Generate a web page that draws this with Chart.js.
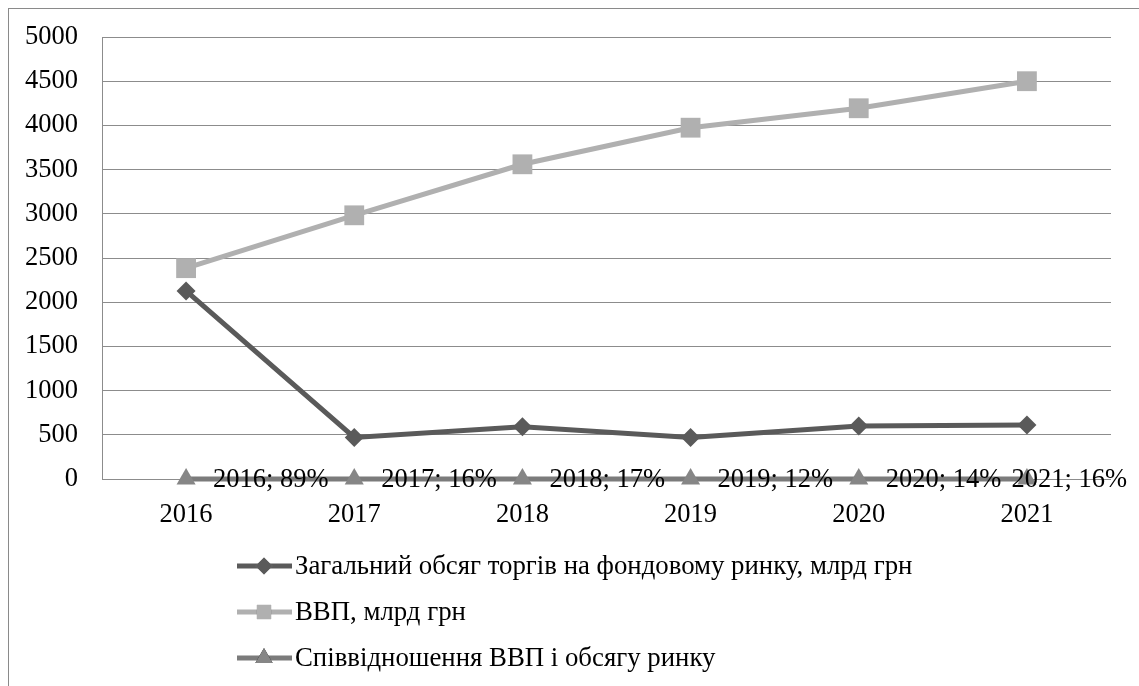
<!DOCTYPE html>
<html>
<head>
<meta charset="utf-8">
<script src="https://cdn.jsdelivr.net/npm/chart.js@4/dist/chart.umd.min.js"></script>
<style>
  html, body { margin: 0; padding: 0; background: #fff; }
  #wrap { width: 1139px; height: 686px; position: relative; }
</style>
</head>
<body>
<div id="wrap"><canvas id="myChartLine" width="1139" height="686"></canvas></div>
<script>
// роки та ряди даних
const years = ['2016', '2017', '2018', '2019', '2020', '2021'];
const tradeVolume = [2127, 470, 590, 470, 600, 610];     // млрд грн
const gdp = [2385, 2983, 3560, 3974, 4194, 4500];          // млрд грн
const ratio = [0.89, 0.16, 0.17, 0.12, 0.14, 0.16];        // частка
const yTicks = [0, 500, 1000, 1500, 2000, 2500, 3000, 3500, 4000, 4500, 5000];

const seriesNames = [
    'Загальний обсяг торгів на фондовому ринку, млрд грн',
    'ВВП, млрд грн',
    'Співвідношення ВВП і обсягу ринку'
];

const FONT = "'Liberation Serif', 'Times New Roman', serif";
const FSIZE = 26.5;

// підписи значень для ряду співвідношення
const ratioLabels = {
    id: 'ratioLabels',
    afterDatasetsDraw(chart) {
        let ctx = chart.ctx;
        let meta = chart.getDatasetMeta(2);
        ctx.save();
        ctx.font = FSIZE + 'px ' + FONT;
        ctx.fillStyle = '#000';
        ctx.textBaseline = 'middle';
        meta.data.forEach(function (pt, i) {
            let txt = years[i] + '; ' + Math.round(ratio[i] * 100) + '%';
            let w = ctx.measureText(txt).width;
            let x = pt.x + 27;
            if (x + w > chart.width - 12) {
                x = chart.width - 12 - w;
            }
            ctx.fillText(txt, x, pt.y + 1);
        });
        ctx.restore();
    }
};

// легенда списком під графіком + рамка навколо
const legendMarks = [
    { style: 'rectRot', radius: 8.5 },
    { style: 'rect', radius: 10 },
    { style: 'triangle', radius: 10 }
];
const listLegend = {
    id: 'listLegend',
    afterDraw(chart) {
        let ctx = chart.ctx;
        ctx.save();
        ctx.strokeStyle = '#8a8a8a';
        ctx.lineWidth = 1;
        ctx.strokeRect(8.5, 8.5, chart.width + 10, chart.height + 10);

        let rows = [566, 612, 658];
        chart.data.datasets.forEach(function (ds, i) {
            let y = rows[i];
            ctx.strokeStyle = ds.borderColor;
            ctx.lineWidth = 5;
            ctx.beginPath();
            ctx.moveTo(237, y);
            ctx.lineTo(292, y);
            ctx.stroke();
            Chart.helpers.drawPoint(ctx, {
                pointStyle: legendMarks[i].style,
                radius: legendMarks[i].radius,
                borderWidth: 0
            }, 264, y);
            ctx.fillStyle = ds.pointBackgroundColor;
            ctx.fill();
            ctx.fillStyle = '#000';
            ctx.font = '26.8px ' + FONT;
            ctx.textBaseline = 'middle';
            ctx.fillText(seriesNames[i], 295, y + 1);
        });
        ctx.restore();
    }
};

let canvas = document.getElementById('myChartLine');
let dataChart = {
    labels: years,
    datasets: [{
        label: seriesNames[0],
        data: tradeVolume,
        borderColor: '#5a5a5a',
        backgroundColor: '#5a5a5a',
        pointBackgroundColor: '#5a5a5a',
        pointBorderWidth: 0,
        borderWidth: 5,
        pointStyle: 'rectRot',
        pointRadius: 9.5,
        clip: false,
        order: 2
    }, {
        label: seriesNames[1],
        data: gdp,
        borderColor: '#b0b0b0',
        backgroundColor: '#b0b0b0',
        pointBackgroundColor: '#b0b0b0',
        pointBorderWidth: 0,
        borderWidth: 5,
        pointStyle: 'rect',
        pointRadius: 14,
        clip: false,
        order: 3
    }, {
        label: seriesNames[2],
        data: ratio,
        borderColor: '#7b7b7b',
        backgroundColor: '#868686',
        pointBackgroundColor: '#868686',
        pointBorderWidth: 0,
        borderWidth: 5,
        pointStyle: 'triangle',
        pointRadius: 11,
        clip: false,
        order: 1
    }]
};

let options = {
    responsive: false,
    animation: false,
    layout: { padding: { top: 37, right: 28, left: 0, bottom: 0 } },
    plugins: {
        legend: { display: false },
        tooltip: { enabled: false }
    },
    scales: {
        x: {
            offset: true,
            grid: { display: false, drawTicks: false },
            border: { display: false },
            ticks: { color: '#000', font: { family: FONT, size: FSIZE }, padding: 20, maxRotation: 0 },
            afterFit(scale) { scale.height = 207; }
        },
        y: {
            min: 0,
            max: 5000,
            afterBuildTicks(scale) { scale.ticks = yTicks.map(v => ({ value: v })); },
            grid: { color: '#8c8c8c', lineWidth: 1, drawTicks: false },
            border: { display: true, color: '#8c8c8c', width: 1 },
            ticks: {
                color: '#000',
                font: { family: FONT, size: FSIZE },
                padding: 24,
                callback: (v) => String(v)
            },
            afterFit(scale) {
                scale.width = 102;
                scale.paddingTop = 0;
                scale.paddingBottom = 0;
            }
        }
    }
};

myChartLine = new Chart(canvas, {
    type: 'line',
    data: dataChart,
    options: options,
    plugins: [ratioLabels, listLegend]
});
</script>
</body>
</html>
